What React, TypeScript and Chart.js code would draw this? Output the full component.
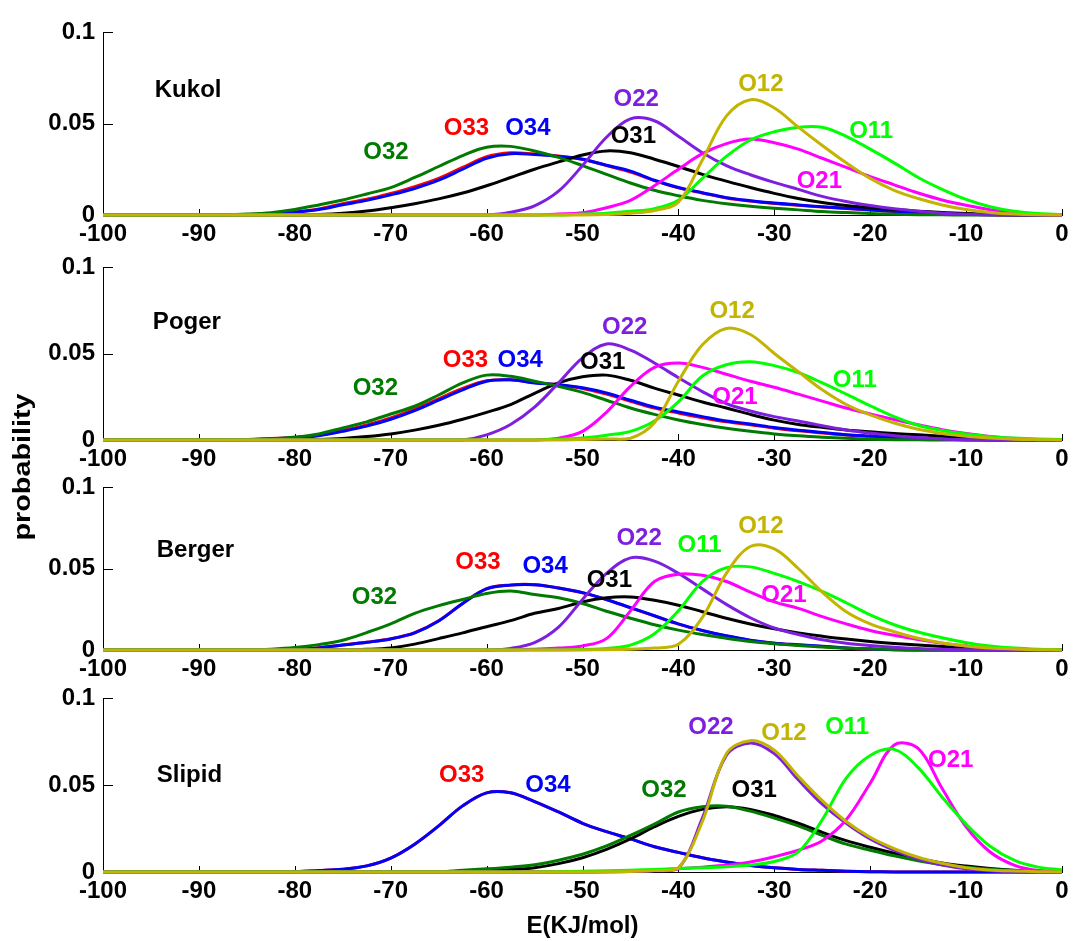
import React, { useEffect, useRef } from "react";
import { Chart, registerables } from "chart.js";

Chart.register(...registerables);

// ---------- shared axis data ----------
const energy = [
  -100, -97.5, -95, -92.5, -90, -87.5, -85, -82.5, -80, -77.5, -75, -72.5, -70, -67.5,
  -65, -62.5, -60, -57.5, -55, -52.5, -50, -47.5, -45, -42.5, -40, -37.5, -35, -32.5,
  -30, -27.5, -25, -22.5, -20, -17.5, -15, -12.5, -10, -7.5, -5, -2.5, 0,
];
const xTicks = [-100, -90, -80, -70, -60, -50, -40, -30, -20, -10, 0];
const xTickLabels = ["-100", "-90", "-80", "-70", "-60", "-50", "-40", "-30", "-20", "-10", "0"];
const yTicks = [0, 0.05, 0.1];
const yTickLabels = ["0", "0.05", "0.1"];
const panelNames = ["Kukol", "Poger", "Berger", "Slipid"];
const xTitle = "E(KJ/mol)";
const yTitle = "probability";

// ---------- Kukol ----------
const kukolO33 = [0,0,0,0,0,0, 0.0003,0.0008,0.0017,0.0033,0.0062,0.0086,0.0118,0.0155,0.020,0.026,0.0318,0.034,0.0333,0.0322,0.0305, 0.027,0.0235,0.0188,0.0148,0.012,0.0093,0.0076,0.0063,0.0053,0.0044,0.0036,0.0027,0.0019,0.0013,0.0008,0.0004,0.0001,0,0,0];
const kukolO34 = [0,0,0,0,0,0, 0.0002,0.0006,0.0015,0.003,0.0056,0.008,0.011,0.0145,0.019,0.025,0.031,0.0335,0.033,0.032,0.0305, 0.0272,0.024,0.019,0.015,0.0122,0.0095,0.0078,0.0065,0.0055,0.0045,0.0037,0.0028,0.002,0.0014,0.0009,0.0005,0.0002,0,0,0];
const kukolO32 = [0,0,0,0,0,0.0001,0.0005,0.0013,0.003,0.0055,0.0082,0.0115,0.015,0.0205,0.0265,0.0325,0.037,0.0375,0.035,0.0315,0.027,0.0222,0.0175,0.0135,0.0105,0.008,0.0062,0.0048,0.0037,0.0028,0.0019,0.0013,0.0008,0.0004,0.0002,0.0001,0,0,0,0,0];
const kukolO31 = [0,0,0,0,0,0,0,0,0, 0.0003,0.001,0.0022,0.004,0.0062,0.0088,0.012,0.016,0.0205,0.025,0.029,0.0328,0.035,0.034,0.0305,0.0265,0.0222,0.0185,0.015,0.0118,0.009,0.0068,0.0052,0.004,0.003,0.0021,0.0014,0.0008,0.0004,0.0001,0,0];
const kukolO22 = [0,0,0,0,0,0,0,0,0,0,0,0,0,0,0,0,0, 0.0015,0.005,0.013,0.027,0.0425,0.0525,0.0515,0.043,0.034,0.027,0.022,0.0178,0.014,0.0102,0.0074,0.0052,0.0034,0.002,0.001,0.0004,0.0001,0,0,0];
const kukolO21 = [0,0,0,0,0,0,0,0,0,0,0,0,0,0,0,0,0,0,0, 0.0005,0.0012,0.004,0.008,0.016,0.025,0.0335,0.039,0.0415,0.0395,0.036,0.031,0.026,0.021,0.0165,0.012,0.0082,0.0053,0.0029,0.0012,0.0003,0];
const kukolO11 = [0,0,0,0,0,0,0,0,0,0,0,0,0,0,0,0,0,0,0,0, 0.0005,0.001,0.002,0.0035,0.008,0.02,0.032,0.041,0.0455,0.048,0.048,0.043,0.036,0.0285,0.0205,0.014,0.0085,0.0045,0.002,0.0008,0.0003];
const kukolO12 = [0,0,0,0,0,0,0,0,0,0,0,0,0,0,0,0,0,0,0,0,0, 0.0003,0.001,0.0025,0.007,0.030,0.054,0.063,0.0585,0.048,0.038,0.0285,0.020,0.0135,0.009,0.0055,0.003,0.0014,0.0005,0.0001,0];

// ---------- Poger ----------
const pogerO33 = [0,0,0,0,0,0, 0.0003,0.0008,0.0016,0.0029,0.0055,0.0087,0.0128,0.0178,0.0238,0.0298,0.0342,0.0348,0.0332,0.0318,0.0298, 0.0266,0.0224,0.0184,0.0156,0.0129,0.0105,0.0088,0.0068,0.0053,0.0041,0.0029,0.0021,0.0014,0.0009,0.0004,0.0001,0,0,0,0];
const pogerO34 = [0,0,0,0,0,0, 0.0002,0.0006,0.0013,0.0025,0.005,0.008,0.012,0.017,0.023,0.029,0.034,0.0348,0.033,0.032,0.0302, 0.0272,0.023,0.019,0.0162,0.0135,0.011,0.0093,0.0072,0.0057,0.0044,0.0031,0.0023,0.0016,0.001,0.0005,0.0002,0,0,0,0];
const pogerO32 = [0,0,0,0,0,0, 0.0002,0.0007,0.0016,0.0035,0.007,0.0105,0.015,0.0195,0.026,0.033,0.0375,0.0368,0.034,0.031,0.0275, 0.023,0.0185,0.0148,0.0116,0.009,0.0068,0.005,0.0035,0.0024,0.0016,0.001,0.0005,0.0002,0.0001,0,0,0,0,0,0];
const pogerO31 = [0,0,0,0,0,0,0,0,0, 0.0003,0.0009,0.002,0.0035,0.0057,0.0085,0.012,0.016,0.0205,0.027,0.033,0.0365,0.0375,0.0345,0.030,0.026,0.022,0.0185,0.0148,0.0115,0.009,0.0073,0.0058,0.0047,0.0038,0.003,0.0022,0.0015,0.0009,0.0004,0.0001,0];
const pogerO22 = [0,0,0,0,0,0,0,0,0,0,0,0,0,0,0,0, 0.003,0.009,0.019,0.033,0.0475,0.0555,0.052,0.0445,0.036,0.028,0.021,0.0168,0.0135,0.011,0.0082,0.0058,0.004,0.0025,0.0014,0.0006,0.0002,0,0,0,0];
const pogerO21 = [0,0,0,0,0,0,0,0,0,0,0,0,0,0,0,0,0,0,0, 0.001,0.005,0.016,0.031,0.042,0.0445,0.042,0.038,0.034,0.0305,0.0265,0.0225,0.0185,0.015,0.0118,0.0088,0.006,0.0037,0.002,0.0009,0.0003,0];
const pogerO11 = [0,0,0,0,0,0,0,0,0,0,0,0,0,0,0,0,0,0,0, 0.0005,0.0012,0.0028,0.005,0.011,0.022,0.037,0.0435,0.0452,0.043,0.039,0.033,0.0265,0.0198,0.0135,0.0085,0.0055,0.0035,0.0019,0.0011,0.0006,0.0003];
const pogerO12 = [0,0,0,0,0,0,0,0,0,0,0,0,0,0,0,0,0,0,0,0, 0.0003,0.0006,0.001,0.01,0.034,0.055,0.0645,0.061,0.050,0.0395,0.029,0.0205,0.0145,0.0098,0.0062,0.0038,0.0022,0.0011,0.0005,0.0002,0];

// ---------- Berger ----------
const bergerO33 = [0,0,0,0,0,0,0,0, 0.0003,0.0014,0.0031,0.0048,0.0069,0.0106,0.0179,0.0286,0.0376,0.0399,0.0401,0.0381,0.0351,0.0309,0.0259,0.0209,0.0159,0.0119,0.0086,0.0059,0.0041,0.0031,0.0022,0.0011,0.0005,0.0002,0,0,0,0,0,0,0];
const bergerO34 = [0,0,0,0,0,0,0,0, 0.0003,0.0013,0.003,0.0047,0.0068,0.0105,0.0178,0.0285,0.0375,0.0398,0.040,0.038,0.0352,0.031,0.026,0.021,0.016,0.012,0.0087,0.006,0.0042,0.0032,0.0023,0.0012,0.0006,0.0002,0,0,0,0,0,0,0];
const bergerO32 = [0,0,0,0,0,0,0, 0.0005,0.0015,0.0033,0.006,0.0107,0.016,0.0225,0.0272,0.031,0.0347,0.0362,0.034,0.032,0.0285,0.0238,0.0195,0.0155,0.0122,0.0095,0.0072,0.0052,0.0038,0.0027,0.0018,0.0012,0.0007,0.0003,0.0001,0,0,0,0,0,0];
const bergerO31 = [0,0,0,0,0,0,0,0,0,0,0, 0.0004,0.0013,0.0036,0.007,0.0105,0.0143,0.018,0.0225,0.0255,0.0295,0.032,0.0325,0.0305,0.0275,0.0235,0.0195,0.016,0.013,0.0105,0.0085,0.0067,0.0052,0.004,0.003,0.0022,0.0015,0.0008,0.0003,0.0001,0];
const bergerO22 = [0,0,0,0,0,0,0,0,0,0,0,0,0,0,0,0,0, 0.001,0.0045,0.014,0.031,0.047,0.0565,0.0545,0.047,0.0375,0.028,0.0198,0.0135,0.0095,0.0063,0.0042,0.0028,0.0017,0.0009,0.0004,0.0001,0,0,0,0];
const bergerO21 = [0,0,0,0,0,0,0,0,0,0,0,0,0,0,0,0,0,0, 0.0005,0.0012,0.0025,0.007,0.024,0.042,0.0465,0.0458,0.042,0.0355,0.0295,0.0255,0.0205,0.016,0.012,0.009,0.0064,0.0042,0.0025,0.0013,0.0007,0.0002,0];
const bergerO11 = [0,0,0,0,0,0,0,0,0,0,0,0,0,0,0,0,0,0,0,0, 0.0003,0.001,0.003,0.01,0.024,0.042,0.0505,0.051,0.047,0.042,0.036,0.029,0.0215,0.0155,0.011,0.0075,0.0045,0.0025,0.0012,0.0005,0.0002];
const bergerO12 = [0,0,0,0,0,0,0,0,0,0,0,0,0,0,0,0,0,0,0,0,0, 0.0002,0.0005,0.0012,0.0035,0.02,0.047,0.0635,0.062,0.050,0.0355,0.0235,0.016,0.0112,0.0072,0.0043,0.0025,0.0012,0.0006,0.0002,0];

// ---------- Slipid ----------
const slipidO33 = [0,0,0,0,0,0,0,0, 0.0002,0.0008,0.0016,0.0035,0.008,0.016,0.0265,0.038,0.0455,0.0455,0.0405,0.0345,0.028,0.0232,0.019,0.0145,0.0113,0.0082,0.0058,0.0038,0.0024,0.0015,0.001,0.0005,0.0002,0,0,0,0,0,0,0,0];
const slipidO34 = [0,0,0,0,0,0,0,0, 0.0002,0.0008,0.0016,0.0035,0.008,0.016,0.0265,0.038,0.0455,0.0455,0.0405,0.0345,0.028,0.0232,0.019,0.0145,0.0113,0.0082,0.0058,0.0038,0.0024,0.0015,0.001,0.0005,0.0002,0,0,0,0,0,0,0,0];
const slipidO32 = [0,0,0,0,0,0,0,0,0,0,0,0,0,0,0, 0.001,0.0018,0.0028,0.0042,0.0068,0.0102,0.015,0.021,0.0275,0.0345,0.0375,0.0378,0.035,0.031,0.0265,0.021,0.016,0.0125,0.0093,0.0065,0.0042,0.0027,0.0016,0.0008,0.0004,0.0002];
const slipidO31 = [0,0,0,0,0,0,0,0,0,0,0,0,0,0,0,0, 0.0008,0.0014,0.0025,0.0048,0.0082,0.013,0.019,0.026,0.032,0.036,0.0375,0.036,0.0325,0.028,0.0228,0.018,0.0142,0.0108,0.0078,0.0052,0.0034,0.002,0.001,0.0005,0.0002];
const slipidO22 = [0,0,0,0,0,0,0,0,0,0,0,0,0,0,0,0,0,0,0,0,0, 0.0001,0.0003,0.0007,0.002,0.031,0.067,0.0742,0.068,0.053,0.039,0.028,0.019,0.0125,0.0075,0.004,0.0018,0.0007,0.0002,0,0];
const slipidO21 = [0,0,0,0,0,0,0,0,0,0,0,0,0,0,0,0,0,0,0,0,0, 0.0002,0.0005,0.001,0.0018,0.0028,0.004,0.0058,0.0088,0.0125,0.018,0.030,0.051,0.073,0.071,0.048,0.026,0.0115,0.004,0.0008,0.0002];
const slipidO11 = [0,0,0,0,0,0,0,0,0,0,0,0,0,0,0,0,0,0,0, 0.0002,0.0004,0.0007,0.001,0.0015,0.002,0.0025,0.003,0.004,0.006,0.0115,0.03,0.054,0.067,0.0705,0.06,0.043,0.0275,0.0148,0.0068,0.0028,0.0012];
const slipidO12 = [0,0,0,0,0,0,0,0,0,0,0,0,0,0,0,0,0,0,0,0,0, 0.0001,0.0003,0.0008,0.0025,0.029,0.068,0.0755,0.070,0.055,0.041,0.029,0.020,0.0135,0.0085,0.005,0.0025,0.0012,0.0006,0.0002,0];

// ---------- label anchor points (E, probability) ----------
const kukolLabels: [string, number, number][] = [
  ["O32", -70.5, 0.034], ["O33", -62.1, 0.0475], ["O34", -55.7, 0.0475], ["O31", -44.7, 0.0432],
  ["O22", -44.4, 0.0634], ["O12", -31.4, 0.0716], ["O11", -19.9, 0.0459], ["O21", -25.3, 0.0186],
];
const pogerLabels: [string, number, number][] = [
  ["O32", -71.6, 0.030], ["O33", -62.2, 0.0462], ["O34", -56.5, 0.0462], ["O31", -47.9, 0.0451],
  ["O22", -45.6, 0.0653], ["O12", -34.4, 0.0746], ["O11", -21.6, 0.0347], ["O21", -34.1, 0.0249],
];
const bergerLabels: [string, number, number][] = [
  ["O32", -71.7, 0.0325], ["O33", -60.9, 0.054], ["O34", -53.9, 0.0515], ["O31", -47.2, 0.0429],
  ["O22", -44.1, 0.0687], ["O11", -37.8, 0.0644], ["O12", -31.4, 0.0761], ["O21", -29.0, 0.0337],
];
const slipidLabels: [string, number, number][] = [
  ["O33", -62.6, 0.0557], ["O34", -53.6, 0.050], ["O32", -41.5, 0.0471], ["O31", -32.1, 0.0471],
  ["O22", -36.6, 0.0833], ["O12", -29.0, 0.0799], ["O11", -22.4, 0.0833], ["O21", -11.6, 0.0644],
];
const titleAnchors: [number, number][] = [[-94.6, 0.0683], [-94.8, 0.0682], [-94.4, 0.0613], [-94.4, 0.0557]];

// ---------- styling ----------
const seriesColors: Record<string, string> = {
  O33: "#ff0000",
  O34: "#0000ff",
  O31: "#000000",
  O32: "#007a00",
  O22: "#7e1fe0",
  O21: "#ff00ff",
  O11: "#00ff00",
  O12: "#c2b400",
};
// first entry is drawn on top
const drawOrder = ["O12", "O11", "O21", "O22", "O32", "O31", "O34", "O33"];

const panelSeries: Record<string, number[]>[] = [
  { O33: kukolO33, O34: kukolO34, O32: kukolO32, O31: kukolO31, O22: kukolO22, O21: kukolO21, O11: kukolO11, O12: kukolO12 },
  { O33: pogerO33, O34: pogerO34, O32: pogerO32, O31: pogerO31, O22: pogerO22, O21: pogerO21, O11: pogerO11, O12: pogerO12 },
  { O33: bergerO33, O34: bergerO34, O32: bergerO32, O31: bergerO31, O22: bergerO22, O21: bergerO21, O11: bergerO11, O12: bergerO12 },
  { O33: slipidO33, O34: slipidO34, O32: slipidO32, O31: slipidO31, O22: slipidO22, O21: slipidO21, O11: slipidO11, O12: slipidO12 },
];
const panelLabels = [kukolLabels, pogerLabels, bergerLabels, slipidLabels];

const W = 1075;
const H = 941;
const frames = [
  { top: 32, bottom: 215 },
  { top: 267, bottom: 440 },
  { top: 487, bottom: 650 },
  { top: 698, bottom: 872 },
];
const PLOT_LEFT = 103;
const PLOT_RIGHT = 1062;
const XAXIS_H = 40;
const FONT = '"Liberation Sans", Arial, Helvetica, sans-serif';

function makeAnnotator(idx: number) {
  return {
    id: "annotate" + idx,
    beforeDatasetsDraw(chart: any) {
      const { ctx, chartArea, scales } = chart;
      ctx.save();
      ctx.strokeStyle = "#000";
      ctx.lineWidth = 1;
      ctx.beginPath();
      xTicks.forEach((v) => {
        const px = Math.round(scales.x.getPixelForValue(v)) + 0.5;
        ctx.moveTo(px, chartArea.bottom);
        ctx.lineTo(px, chartArea.bottom - 6);
      });
      yTicks.forEach((v) => {
        if (v === 0) return;
        const py = Math.round(scales.y.getPixelForValue(v)) + 0.5;
        ctx.moveTo(chartArea.left, py);
        ctx.lineTo(chartArea.left + 10, py);
      });
      ctx.stroke();
      ctx.restore();
    },
    afterDatasetsDraw(chart: any) {
      const { ctx, scales } = chart;
      ctx.save();
      ctx.font = `bold 24px ${FONT}`;
      ctx.textBaseline = "middle";
      ctx.textAlign = "left";
      ctx.fillStyle = "#000";
      const [te, tv] = titleAnchors[idx];
      ctx.fillText(panelNames[idx], scales.x.getPixelForValue(te), scales.y.getPixelForValue(tv));
      ctx.textAlign = "center";
      panelLabels[idx].forEach(([name, e, v]) => {
        ctx.fillStyle = seriesColors[name];
        ctx.fillText(name, scales.x.getPixelForValue(e), scales.y.getPixelForValue(v));
      });
      if (idx === frames.length - 1) {
        ctx.fillStyle = "#000";
        ctx.textAlign = "center";
        ctx.fillText(xTitle, (PLOT_LEFT + PLOT_RIGHT) / 2, 926);
        ctx.save();
        ctx.translate(23, 467);
        ctx.rotate(-Math.PI / 2);
        ctx.scale(1.2, 1);
        ctx.fillText(yTitle, 0, 0);
        ctx.restore();
      }
      ctx.restore();
    },
  };
}

function buildConfig(idx: number): any {
  const series = panelSeries[idx];
  const frame = frames[idx];
  return {
    type: "line",
    data: {
      datasets: drawOrder.map((name) => ({
        label: name,
        data: energy.map((e, i) => ({ x: e, y: series[name][i] })),
        borderColor: seriesColors[name],
        backgroundColor: seriesColors[name],
        borderWidth: 3,
        pointRadius: 0,
        fill: false,
        tension: 0.35,
        borderJoinStyle: "round",
        clip: false,
      })),
    },
    options: {
      responsive: false,
      animation: false,
      devicePixelRatio: 1,
      events: [],
      layout: {
        autoPadding: false,
        padding: { left: 0, right: W - PLOT_RIGHT, top: frame.top, bottom: H - frame.bottom - XAXIS_H },
      },
      plugins: { legend: { display: false }, tooltip: { enabled: false }, title: { display: false } },
      scales: {
        x: {
          type: "linear",
          min: -100,
          max: 0,
          afterBuildTicks: (axis: any) => {
            axis.ticks = xTicks.map((v) => ({ value: v }));
          },
          afterFit: (axis: any) => {
            axis.height = XAXIS_H;
          },
          grid: { display: false, drawTicks: false },
          border: { display: true, color: "#000", width: 1 },
          ticks: {
            autoSkip: false,
            maxRotation: 0,
            padding: 5,
            color: "#000",
            font: { family: FONT, size: 24, weight: "bold" },
            callback: (_v: any, i: number) => xTickLabels[i],
          },
        },
        y: {
          type: "linear",
          min: 0,
          max: 0.1,
          afterBuildTicks: (axis: any) => {
            axis.ticks = yTicks.map((v) => ({ value: v }));
          },
          afterFit: (axis: any) => {
            axis.width = PLOT_LEFT;
          },
          grid: { display: false, drawTicks: false },
          border: { display: true, color: "#000", width: 1 },
          ticks: {
            padding: 8,
            color: "#000",
            font: { family: FONT, size: 24, weight: "bold" },
            callback: (_v: any, i: number) => yTickLabels[i],
          },
        },
      },
    },
    plugins: [makeAnnotator(idx)],
  };
}

export default function App() {
  const canvases = useRef<(HTMLCanvasElement | null)[]>([]);
  useEffect(() => {
    const charts = frames.map((_, i) => new Chart(canvases.current[i] as HTMLCanvasElement, buildConfig(i)));
    return () => charts.forEach((c) => c.destroy());
  }, []);
  return (
    <div style={{ position: "absolute", left: 0, top: 0, width: W, height: H, background: "#fff" }}>
      {frames.map((_, i) => (
        <canvas
          key={i}
          ref={(el) => {
            canvases.current[i] = el;
          }}
          width={W}
          height={H}
          style={{ position: "absolute", left: 0, top: 0, width: W, height: H }}
        />
      ))}
    </div>
  );
}
